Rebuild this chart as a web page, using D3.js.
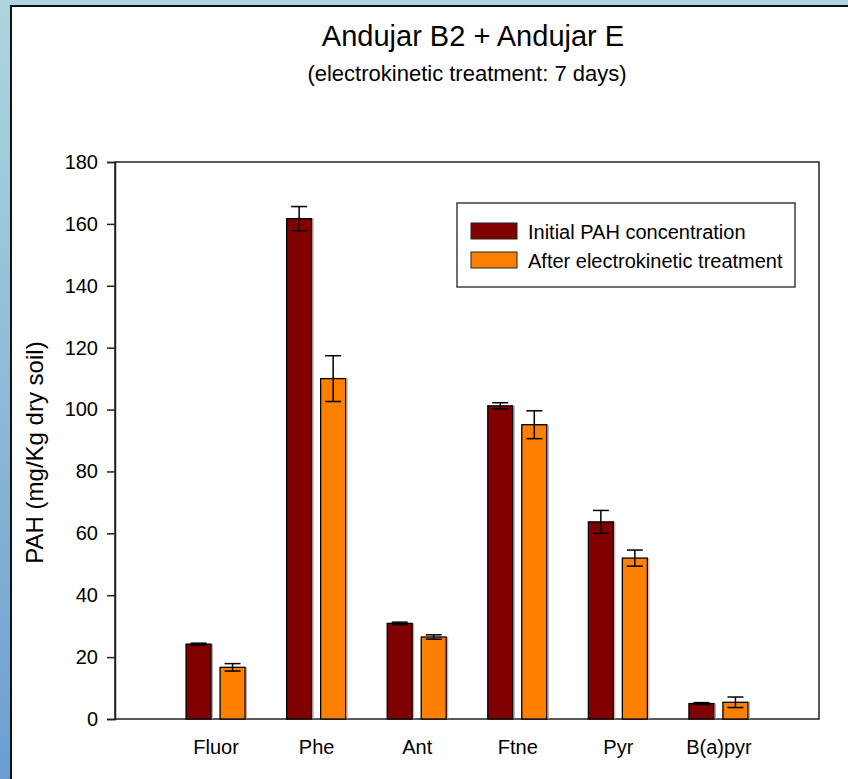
<!DOCTYPE html>
<html>
<head>
<meta charset="utf-8">
<script src="https://cdn.jsdelivr.net/npm/d3@7"></script>
<style>
  html, body { margin: 0; padding: 0; background: #fff; }
  svg { display: block; font-family: "Liberation Sans", Arial, sans-serif; }
</style>
</head>
<body>
<svg id="chart" width="848" height="779"></svg>
<script>
// PAH concentrations (mg/Kg dry soil) per compound
const categories = ["Fluor", "Phe", "Ant", "Ftne", "Pyr", "B(a)pyr"];
const seriesNames = ["Initial PAH concentration", "After electrokinetic treatment"];
const initialValues = [24.2, 161.7, 30.9, 101.2, 63.7, 5.0];
const initialErrors = [0.3, 3.9, 0.4, 1.0, 3.7, 0.3];
const treatedValues = [16.7, 110.0, 26.5, 95.1, 52.0, 5.4];
const treatedErrors = [1.2, 7.4, 0.7, 4.5, 2.6, 1.7];
const yTicks = [0, 20, 40, 60, 80, 100, 120, 140, 160, 180];
const seriesColors = ["#800000", "#ff8000"];

const svg = d3.select("#chart");
const W = 848, H = 779;

// Framed panel with a tinted gradient border on the top and left
const defs = svg.append("defs");
const grad = defs.append("linearGradient")
  .attr("id", "edge").attr("x1", 0).attr("y1", 0).attr("x2", 0).attr("y2", 1);
grad.append("stop").attr("offset", "0%").attr("stop-color", "#afd6de");
grad.append("stop").attr("offset", "100%").attr("stop-color", "#6b9fd0");
svg.append("rect").attr("width", W).attr("height", H).attr("fill", "url(#edge)");
svg.append("rect").attr("x", 11).attr("y", 6).attr("width", W).attr("height", H)
  .attr("fill", "#fff").attr("stroke", "#111").attr("stroke-width", 2);

const plot = { left: 115, right: 819, top: 162, bottom: 719 };

const x = d3.scalePoint().domain(categories)
  .range([plot.left, plot.right]).padding(1);
const y = d3.scaleLinear().domain([0, 180]).range([plot.bottom, plot.top]);

const barW = 25, gap = 9;
const offsets = [-(barW + gap) / 2, (barW + gap) / 2];

// Title and subtitle
svg.append("text").attr("x", 473).attr("y", 46).attr("text-anchor", "middle")
  .attr("font-size", 29).attr("fill", "#000").text("Andujar B2 + Andujar E");
svg.append("text").attr("x", 467).attr("y", 81).attr("text-anchor", "middle")
  .attr("font-size", 22).attr("fill", "#000").text("(electrokinetic treatment: 7 days)");

// Plot frame
svg.append("rect").attr("x", plot.left).attr("y", plot.top)
  .attr("width", plot.right - plot.left).attr("height", plot.bottom - plot.top)
  .attr("fill", "none").attr("stroke", "#222").attr("stroke-width", 1.5);

// Y axis
const yAxis = d3.axisLeft(y).tickValues(yTicks).tickSize(8).tickPadding(9)
  .tickFormat(d3.format("d"));
const gy = svg.append("g").attr("transform", `translate(${plot.left},0)`).call(yAxis);
gy.select(".domain").attr("stroke", "#222").attr("stroke-width", 1.5);
gy.selectAll(".tick line").attr("stroke", "#222").attr("stroke-width", 1.5);
gy.selectAll(".tick text").attr("font-size", 20).attr("fill", "#000")
  .attr("font-family", "Liberation Sans, Arial, sans-serif");

// Y axis title
svg.append("text")
  .attr("transform", `translate(43,${(plot.top + plot.bottom) / 2 + 12}) rotate(-90)`)
  .attr("text-anchor", "middle").attr("font-size", 24).attr("fill", "#000")
  .text("PAH (mg/Kg dry soil)");

// X axis category labels
const xAxis = d3.axisBottom(x).tickSize(0).tickPadding(21);
const gx = svg.append("g").attr("transform", `translate(0,${plot.bottom})`).call(xAxis);
gx.select(".domain").remove();
gx.selectAll(".tick text").attr("font-size", 20).attr("fill", "#000")
  .attr("font-family", "Liberation Sans, Arial, sans-serif");

// Bars with error bars
const series = [
  { values: initialValues, errors: initialErrors },
  { values: treatedValues, errors: treatedErrors }
];
series.forEach((s, si) => {
  const g = svg.append("g");
  const rows = categories.map((c, i) => ({ c, v: s.values[i], e: s.errors[i] }));
  // soft shade on the right edge of each bar
  g.selectAll("line.shade").data(rows).join("line")
    .attr("x1", d => x(d.c) + offsets[si] + barW / 2 + 1.5)
    .attr("x2", d => x(d.c) + offsets[si] + barW / 2 + 1.5)
    .attr("y1", d => y(d.v)).attr("y2", y(0))
    .attr("stroke", "#aaa").attr("stroke-width", 1);
  g.selectAll("rect").data(rows).join("rect")
    .attr("x", d => x(d.c) + offsets[si] - barW / 2)
    .attr("y", d => y(d.v))
    .attr("width", barW)
    .attr("height", d => y(0) - y(d.v))
    .attr("fill", seriesColors[si])
    .attr("stroke", "#000").attr("stroke-width", 1.3);
  const cap = 8;
  const eb = g.selectAll("g.err").data(rows).join("g").attr("class", "err")
    .attr("stroke", "#000").attr("stroke-width", 1.5);
  eb.append("line")
    .attr("x1", d => x(d.c) + offsets[si]).attr("x2", d => x(d.c) + offsets[si])
    .attr("y1", d => y(d.v - d.e)).attr("y2", d => y(d.v + d.e));
  eb.append("line")
    .attr("x1", d => x(d.c) + offsets[si] - cap).attr("x2", d => x(d.c) + offsets[si] + cap)
    .attr("y1", d => y(d.v + d.e)).attr("y2", d => y(d.v + d.e));
  eb.append("line")
    .attr("x1", d => x(d.c) + offsets[si] - cap).attr("x2", d => x(d.c) + offsets[si] + cap)
    .attr("y1", d => y(d.v - d.e)).attr("y2", d => y(d.v - d.e));
});

// Legend
const lg = svg.append("g");
lg.append("rect").attr("x", 457).attr("y", 203).attr("width", 338).attr("height", 84)
  .attr("fill", "#fff").attr("stroke", "#222").attr("stroke-width", 1.3);
seriesNames.forEach((name, i) => {
  const yy = 223 + i * 29;
  lg.append("rect").attr("x", 471).attr("y", yy).attr("width", 46).attr("height", 16)
    .attr("fill", seriesColors[i]).attr("stroke", "#222").attr("stroke-width", 1);
  lg.append("text").attr("x", 528).attr("y", yy + 15.5).attr("font-size", 20)
    .attr("fill", "#000").text(name);
});
</script>
</body>
</html>
